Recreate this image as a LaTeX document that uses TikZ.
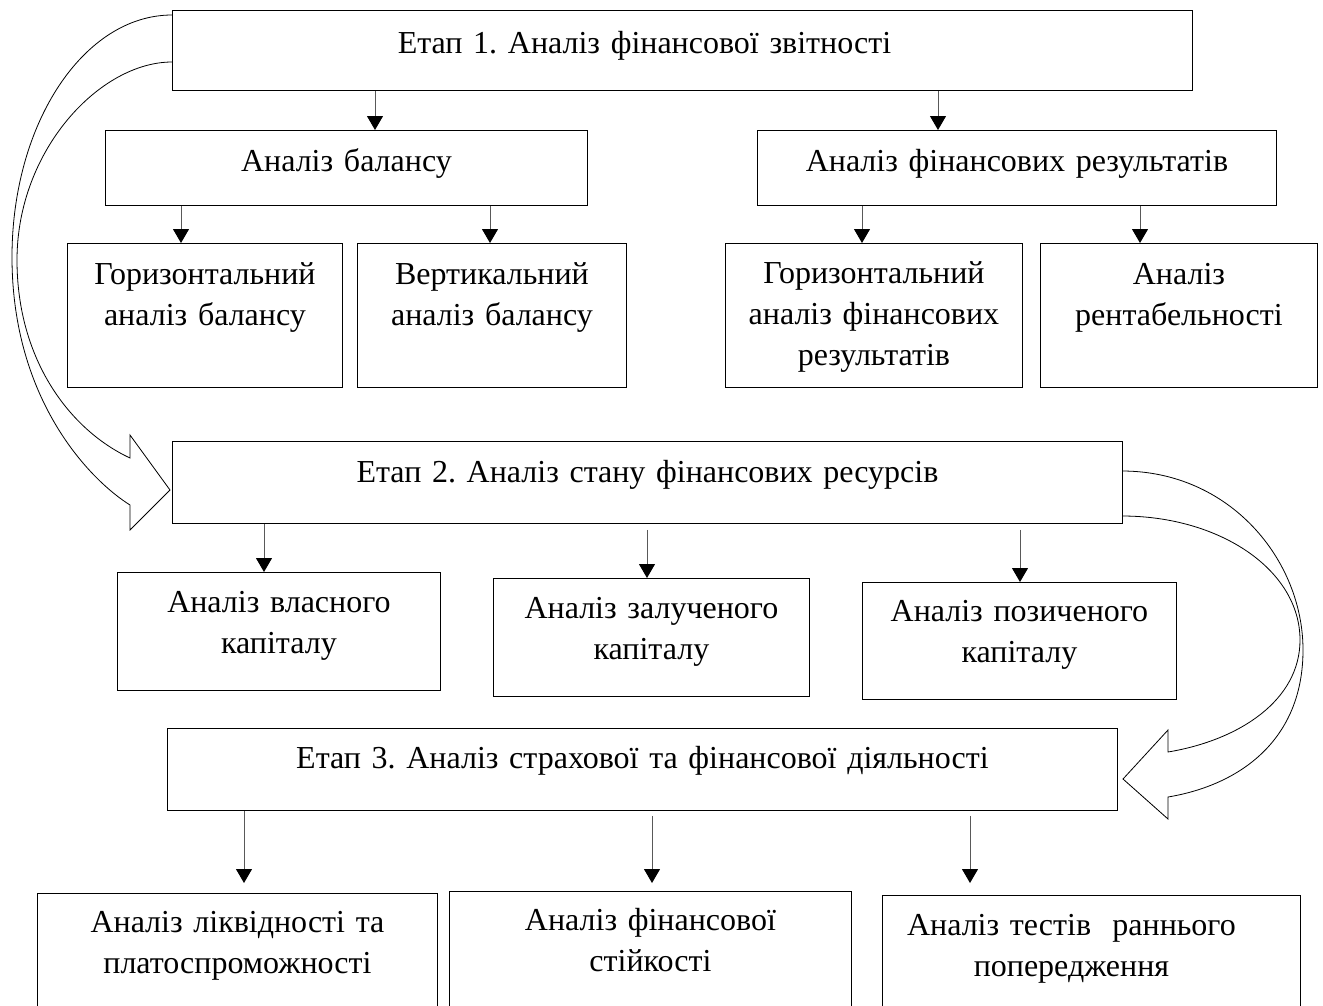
\documentclass[tikz,border=0pt]{standalone}
\usepackage{fontspec}
\setmainfont{Liberation Serif}
\usetikzlibrary{arrows.meta}
\frenchspacing

\begin{document}
\begin{tikzpicture}[x=1pt,y=-1pt,
  box/.style={draw, line width=0.9pt, anchor=north west, inner sep=0pt, align=center, font=\fontsize{32}{41}\selectfont},
  arr/.style={draw=black!65, line width=1pt, -{Triangle[width=16pt,length=14pt,color=black]}},
  bigarrow/.style={draw, line width=0.8pt}]
\clip (0,0) rectangle (1323,1005);

% Etap 1
\node[box, text width=1020pt, text height=43pt, text depth=37pt] (s1) at (172,10) {\hspace*{-76pt}Етап 1. Аналіз фінансової звітності};
\node[box, text width=482pt, text height=41pt, text depth=34pt] (bal) at (105,130) {Аналіз балансу};
\node[box, text width=519pt, text height=41pt, text depth=34pt] (fin) at (757,130) {Аналіз фінансових результатів};
\node[box, text width=275pt, text height=41pt, text depth=103pt] (hb) at (67,243) {Горизонтальний\\аналіз балансу};
\node[box, text width=269pt, text height=41pt, text depth=103pt] (vb) at (357,243) {Вертикальний\\аналіз балансу};
\node[box, text width=297pt, text height=40pt, text depth=104pt] (hf) at (725,243) {Горизонтальний\\аналіз фінансових\\результатів};
\node[box, text width=277pt, text height=41pt, text depth=103pt] (rent) at (1040,243) {Аналіз\\рентабельності};

\draw[arr] (375,0 |- s1.south) -- (375,0 |- bal.north);
\draw[arr] (938,0 |- s1.south) -- (938,0 |- fin.north);
\draw[arr] (181,0 |- bal.south) -- (181,0 |- hb.north);
\draw[arr] (490,0 |- bal.south) -- (490,0 |- vb.north);
\draw[arr] (862,0 |- fin.south) -- (862,0 |- hf.north);
\draw[arr] (1140,0 |- fin.south) -- (1140,0 |- rent.north);

% Etap 2
\node[box, text width=950pt, text height=41pt, text depth=41pt] (s2) at (172,441) {Етап 2. Аналіз стану фінансових ресурсів};
\node[box, text width=323pt, text height=40pt, text depth=78pt] (vk) at (117,572) {Аналіз власного\\капіталу};
\node[box, text width=316pt, text height=40pt, text depth=78pt] (zk) at (493,578) {Аналіз залученого\\капіталу};
\node[box, text width=314pt, text height=39pt, text depth=78pt] (pk) at (862,582) {Аналіз позиченого\\капіталу};

\draw[arr] (264,0 |- s2.south) -- (264,0 |- vk.north);
\draw[arr, shorten <=6pt] (647,0 |- s2.south) -- (647,0 |- zk.north);
\draw[arr, shorten <=6pt] (1020,0 |- s2.south) -- (1020,0 |- pk.north);

% Etap 3
\node[box, text width=950pt, text height=40pt, text depth=42pt] (s3) at (167,728) {Етап 3. Аналіз страхової та фінансової діяльності};
\node[box, text width=400pt, text height=39pt, text depth=130pt] (lq) at (37,893) {Аналіз ліквідності та\\платоспроможності};
\node[box, text width=402pt, text height=39pt, text depth=130pt] (fs) at (449,891) {Аналіз фінансової\\стійкості};
\node[box, text width=418pt, text height=40pt, text depth=130pt] (tr) at (882,895) {\hspace*{-40pt}Аналіз тестів~ раннього\\\hspace*{-40pt}попередження};

\draw[arr, shorten >=10pt] (244,0 |- s3.south) -- (244,0 |- lq.north);
\draw[arr, shorten <=5pt, shorten >=8pt] (652,0 |- s3.south) -- (652,0 |- fs.north);
\draw[arr, shorten <=5pt, shorten >=12pt] (970,0 |- s3.south) -- (970,0 |- tr.north);

% wide curved arrows between the stages
\draw[bigarrow] (172,62) .. controls (100,62) and (17,150) .. (17,260)
  .. controls (17,360) and (70,430) .. (130,458)
  -- (130,435) -- (170,490) -- (130,530) -- (130,505)
  .. controls (90,480) and (12,400) .. (12,257)
  .. controls (12,123) and (84,15) .. (172,15);
\draw[bigarrow] (1122,516) .. controls (1220,516) and (1300,570) .. (1300,640)
  .. controls (1300,700) and (1240,740) .. (1168,752)
  -- (1168,730) -- (1123,779) -- (1168,819) -- (1168,797)
  .. controls (1240,785) and (1303,740) .. (1303,650)
  .. controls (1303,560) and (1230,471) .. (1122,471);
\end{tikzpicture}
\end{document}
